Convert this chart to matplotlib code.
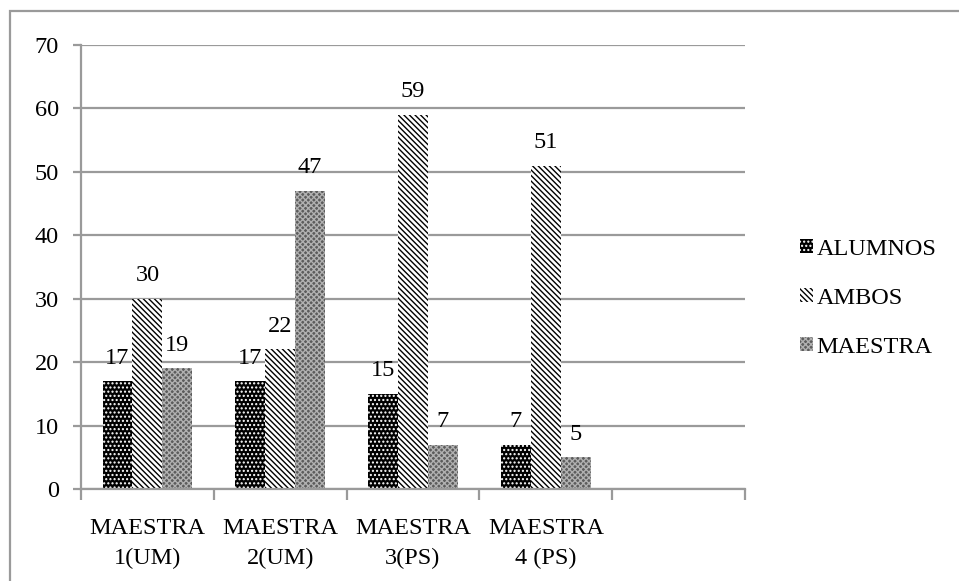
import numpy as np
from matplotlib import pyplot as plt
from matplotlib.patches import Rectangle

plt.rcParams["font.family"] = ["Liberation Serif", "DejaVu Serif"]
plt.rcParams["hatch.linewidth"] = 1.0

categories = ["MAESTRA\n1(UM)", "MAESTRA\n2(UM)", "MAESTRA\n3(PS)", "MAESTRA\n4 (PS)", ""]
alumnos = [17, 17, 15, 7]
ambos = [30, 22, 59, 51]
maestra = [19, 47, 7, 5]

fig = plt.figure(figsize=(9.59, 5.81), dpi=100)
ax = fig.add_axes([81 / 959, 1 - 489 / 581, 664 / 959, 444 / 581])

grey = "#9a9a9a"
fs = 17.5
w = 0.225
x = np.arange(len(alumnos)) + 0.5

b1 = ax.bar(x - w, alumnos, w, color="black", edgecolor="white", hatch="....", lw=0, label="ALUMNOS")
b2 = ax.bar(x, ambos, w, color="white", edgecolor="black", hatch="\\\\\\\\\\\\", lw=0, label="AMBOS")
b3 = ax.bar(x + w, maestra, w, color="#5c5c5c", edgecolor="#b0b0b0", hatch="xxxxxx", lw=0, label="MAESTRA")

for bars in (b1, b2, b3):
    for r in bars:
        ax.annotate(str(int(r.get_height())), (r.get_x() + r.get_width() / 2, r.get_height()),
                    xytext=(0, 9), textcoords="offset points", ha="center", va="bottom", fontsize=fs)

ax.set_xlim(0, 5)
ax.set_ylim(0, 70)
ax.set_yticks(range(0, 71, 10))
ax.yaxis.grid(True, color=grey, lw=1.6)
ax.set_axisbelow(True)

ax.set_xticks(range(0, 6))
ax.set_xticklabels([])
ax.set_xticks(np.arange(5) + 0.5, minor=True)
ax.set_xticklabels(categories, minor=True, fontsize=fs, linespacing=1.55)
ax.tick_params(axis="x", which="minor", length=0, pad=21)
ax.tick_params(axis="x", which="major", length=8, width=1.6, color=grey)
ax.tick_params(axis="y", length=6, width=1.6, color=grey, labelsize=fs, pad=10)

for s in ("top", "right"):
    ax.spines[s].set_visible(False)
for s in ("left", "bottom"):
    ax.spines[s].set_color(grey)
    ax.spines[s].set_linewidth(1.6)

ax.legend(loc="upper left", bbox_to_anchor=(790 / 959, 1 - 229 / 581), bbox_transform=fig.transFigure,
          frameon=False, fontsize=fs, handlelength=0.55, handleheight=0.55, handletextpad=0.15,
          labelspacing=1.15, borderaxespad=0)

fig.patches.append(Rectangle((10 / 959, -0.1), 1.1, 1.1 - 11 / 581, transform=fig.transFigure,
                             fill=False, edgecolor=grey, lw=1.6))

fig.savefig("out.png", dpi=100)
